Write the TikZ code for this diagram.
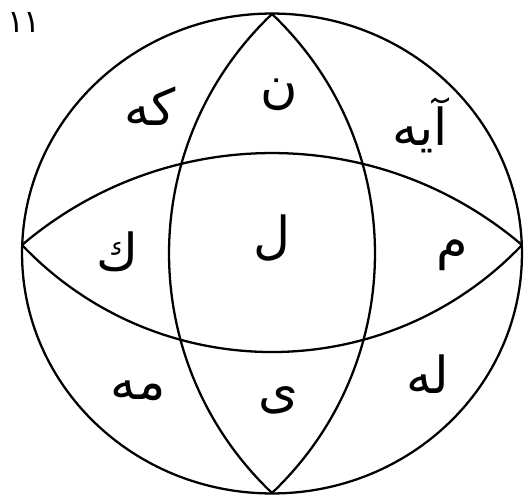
\documentclass[tikz,border=0pt]{standalone}
\usepackage{fontspec}
\usetikzlibrary{shapes.geometric}
\TeXXeTstate=1
\newfontfamily\arabicfont[Script=Arabic]{DejaVu Sans}
\begin{document}
\begin{tikzpicture}[x=0.02cm,y=-0.02cm,line width=1.3pt,
  lbl/.style={font=\arabicfont\fontsize{29}{33}\selectfont,inner sep=0pt},
  arcline/.style={line width=1.3pt}]
\useasboundingbox (0,0) rectangle (524,496);
% outer circle
\node[draw,ellipse,line width=1.3pt,minimum width=10cm,minimum height=9.6cm,inner sep=0pt] (circ) at (272,253.5) {};
% lens end points
\coordinate (T) at (272,14);
\coordinate (B) at (272,493);
\coordinate (L) at (22,245);
\coordinate (R) at (522,245);
% vertical lens
\draw[arcline] (T) .. controls (134.7,144.7) and (134.7,362.3) .. (B);
\draw[arcline] (T) .. controls (409.3,144.7) and (409.3,362.3) .. (B);
% horizontal lens
\draw[arcline] (L) .. controls (166.1,122.4) and (377.9,122.4) .. (R);
\draw[arcline] (L) .. controls (158.1,387.7) and (385.9,387.7) .. (R);
% labels
\node[font=\arabicfont\fontsize{18}{20}\selectfont,inner sep=0pt] (num) at (24,22) {١١};
\node[lbl] (kah) at (150,106) {\beginR كه\endR};
\node[lbl] (nun) at (279,95) {\beginR ن\endR};
\node[lbl] (ayah) at (420,125) {\beginR آيه\endR};
\node[lbl] (kaf) at (117,252) {\beginR ك\endR};
\node[lbl] (lam) at (272,238) {\beginR ل\endR};
\node[lbl] (mim) at (452,255) {\beginR م\endR};
\node[lbl] (mah) at (138,391) {\beginR مه\endR};
\node[lbl] (ya) at (278,400) {\beginR ى\endR};
\node[lbl] (lah) at (428,374) {\beginR له\endR};
\end{tikzpicture}
\end{document}
